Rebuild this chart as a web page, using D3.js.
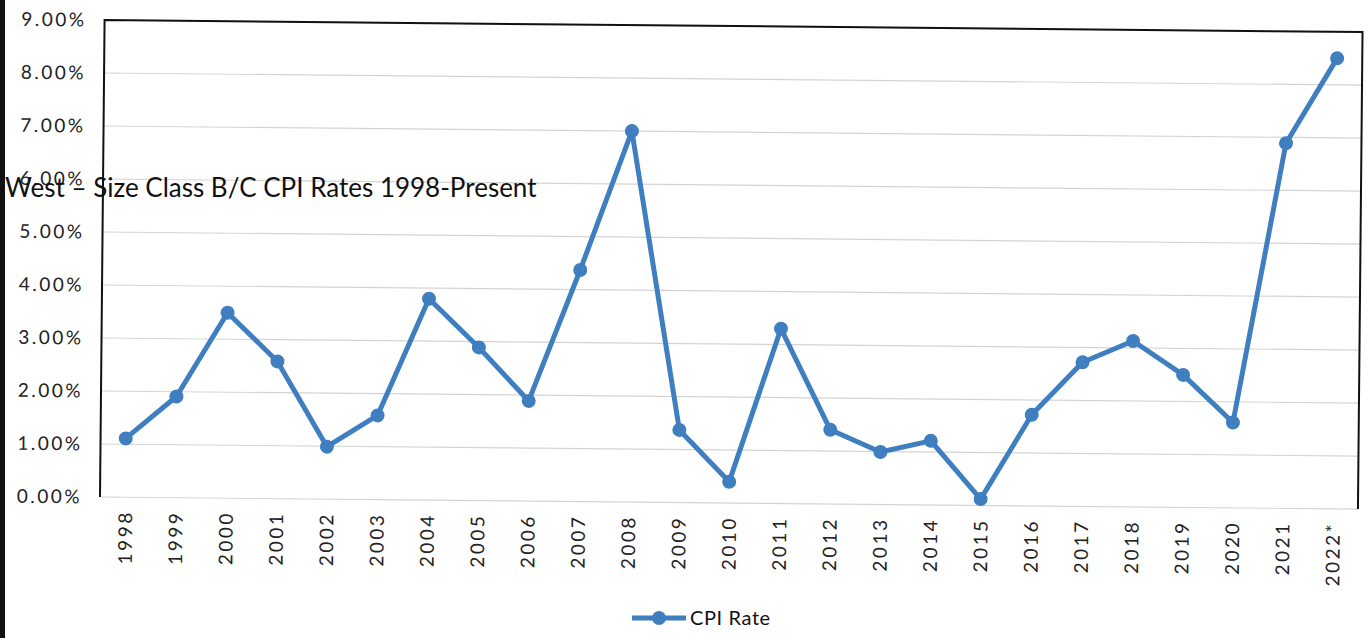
<!DOCTYPE html>
<html lang="en">
  <head>
    <meta charset="utf-8">
    <title>West - Size Class B/C CPI Rates</title>
    <script type="text/javascript" src="https://d3js.org/d3.v7.min.js"></script>
  </head>
  <style>
    body { margin: 0; background: #fff; }
    svg { display: block; font-family: Lato, "Open Sans", sans-serif; }
  </style>
  <body>
    <svg class="chart"></svg>
  </body>

  <script>
    //Data
    const years = ["1998", "1999", "2000", "2001", "2002", "2003", "2004", "2005", "2006", "2007", "2008", "2009",
                   "2010", "2011", "2012", "2013", "2014", "2015", "2016", "2017", "2018", "2019", "2020", "2021", "2022*"];
    const cpiRates = [1.11, 1.91, 3.50, 2.59, 0.99, 1.59, 3.80, 2.89, 1.89, 4.37, 7.00, 1.37,
                      0.40, 3.30, 1.40, 0.99, 1.21, 0.12, 1.72, 2.72, 3.13, 2.50, 1.61, 6.89, 8.50];
    const yTicks = [0, 1, 2, 3, 4, 5, 6, 7, 8, 9];

    const width = 1367, height = 638;
    const plotLeft = 100, plotRight = 1358, plotTop = 20, plotBottom = 497;
    const lineColor = "#3f7fc0";

    var svg = d3.select(".chart").attr("width", width).attr("height", height);

    //scan edge on the left
    svg.append("rect").attr("x", 0).attr("y", 0).attr("width", 5).attr("height", height).attr("fill", "#111");

    var x = d3.scalePoint().domain(years).range([plotLeft, plotRight]).padding(0.5);
    var y = d3.scaleLinear().domain([0, 9]).range([plotBottom, plotTop]);

    //the page was scanned a little crooked
    var g = svg.append("g").attr("transform", "rotate(0.55," + plotLeft + "," + plotBottom + ")");

    //gridlines
    g.append("g")
      .selectAll("line")
      .data(yTicks)
      .join("line")
        .attr("x1", plotLeft).attr("x2", plotRight)
        .attr("y1", d=>y(d)).attr("y2", d=>y(d))
        .attr("stroke", "#d4d4d4").attr("stroke-width", 1.2);

    //frame: top, left, right
    g.append("path")
      .attr("d", d3.line()([[plotLeft, plotBottom], [plotLeft, plotTop], [plotRight, plotTop], [plotRight, plotBottom]]))
      .attr("fill", "none").attr("stroke", "#111").attr("stroke-width", 2);

    //y axis labels
    var yAxis = d3.axisLeft(y).tickValues(yTicks).tickSize(0).tickPadding(18)
      .tickFormat(d=>d3.format(".2f")(d) + "%");
    g.append("g")
      .attr("transform", "translate(" + plotLeft + ",0)")
      .call(yAxis)
      .call(a=>a.select(".domain").remove())
      .selectAll("text")
        .attr("font-size", 19).attr("font-family", "Lato, sans-serif").attr("fill", "#222")
        .attr("letter-spacing", 2.5);

    //x axis labels, rotated
    var xAxis = d3.axisBottom(x).tickSize(0).tickPadding(0);
    g.append("g")
      .attr("transform", "translate(0," + plotBottom + ")")
      .call(xAxis)
      .call(a=>a.select(".domain").remove())
      .selectAll("text")
        .attr("font-size", 19).attr("font-family", "Lato, sans-serif").attr("fill", "#222")
        .attr("letter-spacing", 2.5)
        .attr("transform", "rotate(-90)")
        .attr("text-anchor", "end")
        .attr("dy", "0.35em")
        .attr("x", -13).attr("y", 0);

    //the line and markers
    var line = d3.line()
      .x((d,i)=>x(years[i]))
      .y(d=>y(d));

    g.append("path")
      .datum(cpiRates)
      .attr("d", line)
      .attr("fill", "none")
      .attr("stroke", lineColor)
      .attr("stroke-width", 5)
      .attr("stroke-linejoin", "round");

    g.append("g")
      .selectAll("circle")
      .data(cpiRates)
      .join("circle")
        .attr("cx", (d,i)=>x(years[i]))
        .attr("cy", d=>y(d))
        .attr("r", 7)
        .attr("fill", lineColor);

    //title, sits over the plot as in the original
    svg.append("text")
      .attr("x", 5).attr("y", 197)
      .attr("font-size", 26).attr("font-family", "Lato, sans-serif").attr("fill", "#111")
      .text("West \u2013 Size Class B/C CPI Rates 1998-Present");

    //legend
    var legend = svg.append("g").attr("transform", "translate(632,618)");
    legend.append("line").attr("x1", 0).attr("x2", 54).attr("y1", 0).attr("y2", 0)
      .attr("stroke", lineColor).attr("stroke-width", 5);
    legend.append("circle").attr("cx", 27).attr("cy", 0).attr("r", 7).attr("fill", lineColor);
    legend.append("text").attr("x", 58).attr("y", 0).attr("dy", "0.35em")
      .attr("font-size", 20).attr("font-family", "Lato, sans-serif").attr("fill", "#111")
      .attr("letter-spacing", 0.6)
      .text("CPI Rate");
  </script>
</html>
